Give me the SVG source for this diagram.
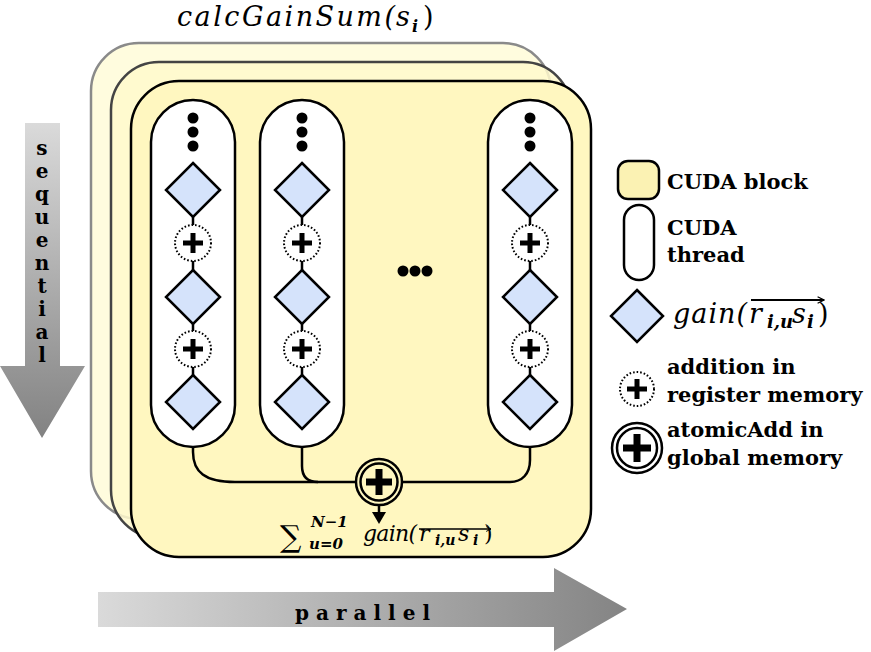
<svg xmlns="http://www.w3.org/2000/svg" width="871" height="652" viewBox="0 0 871 652">
<defs>
<linearGradient id="gv" gradientUnits="userSpaceOnUse" x1="0" y1="123" x2="0" y2="438">
<stop offset="0" stop-color="#dadada"/><stop offset="1" stop-color="#828282"/>
</linearGradient>
<linearGradient id="gh" gradientUnits="userSpaceOnUse" x1="98" y1="0" x2="627" y2="0">
<stop offset="0" stop-color="#dadada"/><stop offset="1" stop-color="#848484"/>
</linearGradient>
<marker id="ah" viewBox="0 0 10 10" refX="9" refY="5" markerWidth="4" markerHeight="4" orient="auto">
<path d="M1,1 L9,5 L1,9" fill="none" stroke="#000" stroke-width="1.6"/>
</marker>
<g id="dia"><path d="M0,-27 L27,0 L0,27 L-27,0 Z" class="dia"/></g>
<g id="radd"><circle r="18" class="dot"/><path d="M-10,0 H10 M0,-10 V10" class="pl"/></g>
<g id="thread">
<rect x="-42" y="0" width="84" height="347" rx="42" class="thr"/>
<circle cx="0" cy="18" r="5.5"/><circle cx="0" cy="32" r="5.5"/><circle cx="0" cy="46" r="5.5"/>
<path d="M0,117 V125 M0,161 V170 M0,224 V231 M0,267 V275" class="ln"/>
<use href="#dia" y="90"/><use href="#radd" y="143"/><use href="#dia" y="197"/><use href="#radd" y="249"/><use href="#dia" y="302"/>
</g>
</defs>
<style>
.dia{fill:#d5e3fb;stroke:#000;stroke-width:2.5}
.dot{fill:#fff;stroke:#000;stroke-width:2;stroke-dasharray:1.6 2}
.pl{stroke:#000;stroke-width:5;fill:none}
.thr{fill:#fff;stroke:#000;stroke-width:2.5}
.ln{stroke:#000;stroke-width:2.5;fill:none}
.lbl{font-family:"DejaVu Serif",serif;font-weight:bold;font-size:21px;fill:#000}
.m{font-family:"DejaVu Serif",serif;font-style:italic;fill:#000}
.mr{font-family:"DejaVu Serif",serif;fill:#000}
.ax{font-family:"DejaVu Serif",serif;font-weight:bold;font-size:20px;fill:#000;text-anchor:middle}
</style>

<g id="arrow-sequential">
<polygon points="25,123 60,123 60,366 85,366 42,438 0,366 25,366" fill="url(#gv)"/>
<text class="ax" x="42" y="155">s</text>
<text class="ax" x="42" y="178">e</text>
<text class="ax" x="42" y="201">q</text>
<text class="ax" x="42" y="224">u</text>
<text class="ax" x="42" y="247">e</text>
<text class="ax" x="42" y="270">n</text>
<text class="ax" x="42" y="293">t</text>
<text class="ax" x="42" y="316">i</text>
<text class="ax" x="42" y="339">a</text>
<text class="ax" x="42" y="362">l</text>
</g>

<g id="arrow-parallel">
<polygon points="98,592 554,592 554,568 627,609 554,651 554,627 98,627" fill="url(#gh)"/>
<text class="ax" x="366" y="620" style="letter-spacing:7px">parallel</text>
</g>

<g id="title">
<text class="m" x="177" y="26" font-size="27" textLength="218" lengthAdjust="spacing">calcGainSum(</text>
<text class="m" x="396" y="26" font-size="27">s</text>
<text class="m" x="412" y="32" font-size="16" font-weight="bold">i</text>
<text class="mr" x="423" y="26" font-size="27">)</text>
</g>

<g id="block-back">
<rect x="91" y="43" width="460" height="476" rx="48" fill="#fffbd6" fill-opacity="0.8" stroke="#8a8a8a" stroke-width="2.5"/>
</g>
<g id="block-mid">
<rect x="111" y="62" width="460" height="476" rx="48" fill="#fff9cc" fill-opacity="0.85" stroke="#444" stroke-width="2.5"/>
</g>
<g id="block-front">
<rect x="131" y="81" width="460" height="476" rx="48" fill="#fff7c0" stroke="#000" stroke-width="2.5"/>
</g>

<g id="connectors">
<path class="ln" d="M193,446 V452 C193,472 205,482 235,482 H357"/>
<path class="ln" d="M302,446 V466 C302,477 308,482 318,482"/>
<path class="ln" d="M402,482 H510 C522,482 530,474 530,460 V446"/>
<path class="ln" d="M379,505 V514"/>
<path d="M372,512 H386 L379,524 Z" fill="#000"/>
</g>

<g id="thread-1"><use href="#thread" x="193" y="100"/></g>
<g id="thread-2"><use href="#thread" x="302" y="100"/></g>
<g id="thread-3"><use href="#thread" x="530" y="100"/></g>

<g id="ellipsis">
<circle cx="403" cy="271" r="5.5"/><circle cx="415" cy="271" r="5.5"/><circle cx="427" cy="271" r="5.5"/>
</g>

<g id="atomic-add">
<circle cx="379" cy="482" r="23" fill="#fff7c0" stroke="#000" stroke-width="2.5"/>
<circle cx="379" cy="482" r="18.5" fill="none" stroke="#000" stroke-width="2.5"/>
<path d="M366,482 H392 M379,469 V495" stroke="#000" stroke-width="7"/>
</g>

<g id="sum-label">
<text class="mr" x="280" y="547" font-size="30">∑</text>
<text class="m" x="311" y="527" font-size="15" font-weight="bold">N−1</text>
<text class="m" x="309" y="549" font-size="15" font-weight="bold">u=0</text>
<text class="m" x="363" y="541" font-size="22" textLength="54" lengthAdjust="spacing">gain(</text>
<text class="m" x="419" y="541" font-size="22">r</text>
<text class="m" x="435" y="545" font-size="14" font-weight="bold">i,u</text>
<text class="m" x="458" y="541" font-size="22">s</text>
<text class="m" x="473" y="545" font-size="14" font-weight="bold">i</text>
<text class="mr" x="484" y="541" font-size="22">)</text>
<path d="M419,529 H491" stroke="#000" stroke-width="1.5" marker-end="url(#ah)"/>
</g>

<g id="legend-block">
<rect x="618" y="161" width="41" height="38" rx="10" fill="#fbf2b3" stroke="#000" stroke-width="2.5"/>
<text class="lbl" x="667" y="189">CUDA block</text>
</g>
<g id="legend-thread">
<rect x="624" y="205" width="30" height="75" rx="15" class="thr"/>
<text class="lbl" x="667" y="235">CUDA</text>
<text class="lbl" x="667" y="262">thread</text>
</g>
<g id="legend-gain">
<path d="M637,290 L663,316 L637,342 L611,316 Z" class="dia"/>
<text class="m" x="673" y="323" font-size="27" textLength="74" lengthAdjust="spacing">gain(</text>
<text class="m" x="749" y="323" font-size="27">r</text>
<text class="m" x="767" y="328" font-size="18" font-weight="bold">i,u</text>
<text class="m" x="792" y="323" font-size="27">s</text>
<text class="m" x="807" y="328" font-size="18" font-weight="bold">i</text>
<text class="mr" x="818" y="323" font-size="27">)</text>
<path d="M751,300 H824" stroke="#000" stroke-width="2" marker-end="url(#ah)"/>
</g>
<g id="legend-add">
<circle cx="637" cy="389" r="17" class="dot"/>
<path d="M627,389 H647 M637,379 V399" class="pl"/>
<text class="lbl" x="667" y="374">addition in</text>
<text class="lbl" x="667" y="402">register memory</text>
</g>
<g id="legend-atomic">
<circle cx="637" cy="448" r="25" fill="#fff" stroke="#000" stroke-width="2.5"/>
<circle cx="637" cy="448" r="20" fill="none" stroke="#000" stroke-width="2.5"/>
<path d="M623,448 H651 M637,434 V462" stroke="#000" stroke-width="7"/>
<text class="lbl" x="667" y="437">atomicAdd in</text>
<text class="lbl" x="667" y="465">global memory</text>
</g>
</svg>
